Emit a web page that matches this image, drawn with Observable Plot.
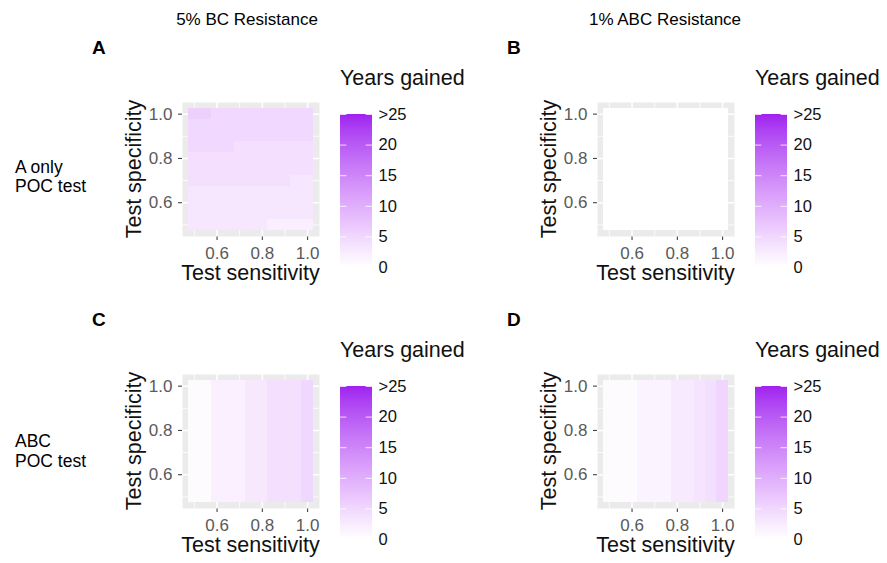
<!DOCTYPE html>
<html>
<head>
<meta charset="utf-8">
<script src="https://cdn.jsdelivr.net/npm/d3@7"></script>
<script src="https://cdn.jsdelivr.net/npm/@observablehq/plot@0.6"></script>
<style>
  html, body { margin: 0; padding: 0; background: #fff; }
  #wrap { position: relative; width: 887px; height: 563px; font-family: "Liberation Sans", Arial, Helvetica, sans-serif; color: #000; overflow: hidden; }
  .txt { position: absolute; white-space: nowrap; line-height: 1; }
  .abs { position: absolute; }
</style>
</head>
<body>
<div id="wrap"></div>
<script>
// ---------- data ----------
const sensitivity = [0.5, 0.55, 0.6, 0.65, 0.7, 0.75, 0.8, 0.85, 0.9, 0.95, 1.0];
const specificity = [1.0, 0.95, 0.9, 0.85, 0.8, 0.75, 0.7, 0.65, 0.6, 0.55, 0.5]; // rows, top to bottom

// Years gained, rows = specificity (1.0 -> 0.5), columns = sensitivity (0.5 -> 1.0)
const yearsA = [
  [5.8, 5.8, 4.8, 4.8, 4.8, 4.8, 4.8, 4.8, 4.8, 4.8, 4.8],
  [4.8, 4.8, 4.8, 4.8, 4.8, 4.8, 4.8, 4.8, 4.8, 4.8, 4.8],
  [4.8, 4.8, 4.8, 4.8, 4.8, 4.8, 4.8, 4.8, 4.8, 4.8, 4.8],
  [4.8, 4.8, 4.8, 4.8, 3.8, 3.8, 3.8, 3.8, 3.8, 3.8, 3.8],
  [3.8, 3.8, 3.8, 3.8, 3.8, 3.8, 3.8, 3.8, 3.8, 3.8, 3.8],
  [3.8, 3.8, 3.8, 3.8, 3.8, 3.8, 3.8, 3.8, 3.8, 3.8, 3.8],
  [3.8, 3.8, 3.8, 3.8, 3.8, 3.8, 3.8, 3.8, 3.8, 2.9, 2.9],
  [2.9, 2.9, 2.9, 2.9, 2.9, 2.9, 2.9, 2.9, 2.9, 2.9, 2.9],
  [2.9, 2.9, 2.9, 2.9, 2.9, 2.9, 2.9, 2.9, 2.9, 2.9, 2.9],
  [2.9, 2.9, 2.9, 2.9, 2.9, 2.9, 2.9, 2.9, 2.9, 2.9, 2.9],
  [2.9, 2.9, 2.9, 2.9, 2.9, 2.9, 2.9, 2.0, 2.0, 2.0, 2.0]
];
const yearsB = [
  [0, 0, 0, 0, 0, 0, 0, 0, 0, 0, 0],
  [0, 0, 0, 0, 0, 0, 0, 0, 0, 0, 0],
  [0, 0, 0, 0, 0, 0, 0, 0, 0, 0, 0],
  [0, 0, 0, 0, 0, 0, 0, 0, 0, 0, 0],
  [0, 0, 0, 0, 0, 0, 0, 0, 0, 0, 0],
  [0, 0, 0, 0, 0, 0, 0, 0, 0, 0, 0],
  [0, 0, 0, 0, 0, 0, 0, 0, 0, 0, 0],
  [0, 0, 0, 0, 0, 0, 0, 0, 0, 0, 0],
  [0, 0, 0, 0, 0, 0, 0, 0, 0, 0, 0],
  [0, 0, 0, 0, 0, 0, 0, 0, 0, 0, 0],
  [0, 0, 0, 0, 0, 0, 0, 0, 0, 0, 0]
];
const yearsC = [
  [0.5, 0.5, 1.8, 1.8, 1.8, 2.8, 2.8, 3.8, 3.8, 3.8, 5.0],
  [0.5, 0.5, 1.8, 1.8, 1.8, 2.8, 2.8, 3.8, 3.8, 3.8, 5.0],
  [0.5, 0.5, 1.8, 1.8, 1.8, 2.8, 2.8, 3.8, 3.8, 3.8, 5.0],
  [0.5, 0.5, 1.8, 1.8, 1.8, 2.8, 2.8, 3.8, 3.8, 3.8, 5.0],
  [0.5, 0.5, 1.8, 1.8, 1.8, 2.8, 2.8, 3.8, 3.8, 3.8, 5.0],
  [0.5, 0.5, 1.8, 1.8, 1.8, 2.8, 2.8, 3.8, 3.8, 3.8, 5.0],
  [0.5, 0.5, 1.8, 1.8, 1.8, 2.8, 2.8, 3.8, 3.8, 3.8, 5.0],
  [0.5, 0.5, 1.8, 1.8, 1.8, 2.8, 2.8, 3.8, 3.8, 3.8, 5.0],
  [0.5, 0.5, 1.8, 1.8, 1.8, 2.8, 2.8, 3.8, 3.8, 3.8, 5.0],
  [0.5, 0.5, 1.8, 1.8, 1.8, 2.8, 2.8, 3.8, 3.8, 3.8, 5.0],
  [0.5, 0.5, 1.8, 1.8, 1.8, 2.8, 2.8, 3.8, 3.8, 3.8, 5.0]
];
const yearsD = [
  [0.5, 0.5, 0.5, 1.5, 1.5, 1.5, 2.7, 2.7, 3.3, 4.0, 5.2],
  [0.5, 0.5, 0.5, 1.5, 1.5, 1.5, 2.7, 2.7, 3.3, 4.0, 5.2],
  [0.5, 0.5, 0.5, 1.5, 1.5, 1.5, 2.7, 2.7, 3.3, 4.0, 5.2],
  [0.5, 0.5, 0.5, 1.5, 1.5, 1.5, 2.7, 2.7, 3.3, 4.0, 5.2],
  [0.5, 0.5, 0.5, 1.5, 1.5, 1.5, 2.7, 2.7, 3.3, 4.0, 5.2],
  [0.5, 0.5, 0.5, 1.5, 1.5, 1.5, 2.7, 2.7, 3.3, 4.0, 5.2],
  [0.5, 0.5, 0.5, 1.5, 1.5, 1.5, 2.7, 2.7, 3.3, 4.0, 5.2],
  [0.5, 0.5, 0.5, 1.5, 1.5, 1.5, 2.7, 2.7, 3.3, 4.0, 5.2],
  [0.5, 0.5, 0.5, 1.5, 1.5, 1.5, 2.7, 2.7, 3.3, 4.0, 5.2],
  [0.5, 0.5, 0.5, 1.5, 1.5, 1.5, 2.7, 2.7, 3.3, 4.0, 5.2],
  [0.5, 0.5, 0.5, 1.5, 1.5, 1.5, 2.7, 2.7, 3.3, 4.0, 5.2]
];

const majorTicks = [0.6, 0.8, 1.0];
const minorTicks = [0.5, 0.7, 0.9];
const legendBreaks = [0, 5, 10, 15, 20, 25];
const legendLabels = ["0", "5", "10", "15", "20", ">25"];
const columnTitles = ["5% BC Resistance", "1% ABC Resistance"];
const rowTitles = [["A only", "POC test"], ["ABC", "POC test"]];
const panelLetters = ["A", "B", "C", "D"];
const xTitle = "Test sensitivity";
const yTitle = "Test specificity";
const legendTitle = "Years gained";

// ---------- layout ----------
const wrap = document.getElementById("wrap");
const colorOpts = {type: "linear", domain: [0, 25], range: ["#ffffff", "#a020f0"], interpolate: d3.interpolateLab, clamp: true};
const step = 0.05;

function toTiles(matrix) {
  const out = [];
  matrix.forEach((row, i) => row.forEach((v, j) => out.push({sens: sensitivity[j], spec: specificity[i], value: v})));
  return out;
}

function addText(str, left, top, style) {
  const el = document.createElement("div");
  el.className = "txt";
  el.textContent = str;
  el.style.left = left + "px";
  el.style.top = top + "px";
  Object.assign(el.style, style || {});
  wrap.appendChild(el);
  return el;
}

const FW = 137, FH = 134; // frame size
function panel(matrix, fl, ft, letter) {
  const ML = 60, MB = 26;
  const svg = Plot.plot({
    width: FW + ML, height: FH + MB,
    marginLeft: ML, marginRight: 0, marginTop: 0, marginBottom: MB,
    style: {fontFamily: "Liberation Sans, Arial, sans-serif", fontSize: "17px", color: "#333", background: "transparent", overflow: "visible"},
    x: {domain: [0.4475, 1.0525], ticks: majorTicks, tickFormat: d => d.toFixed(1), tickSize: 4, tickPadding: 6, label: null},
    y: {domain: [0.4475, 1.0525], ticks: majorTicks, tickFormat: d => d.toFixed(1), tickSize: 4, tickPadding: 6, label: null},
    color: colorOpts,
    marks: [
      Plot.frame({fill: "#ebebeb", stroke: null}),
      Plot.ruleX(minorTicks, {stroke: "#fff", strokeWidth: 0.8}),
      Plot.ruleY(minorTicks, {stroke: "#fff", strokeWidth: 0.8}),
      Plot.ruleX(majorTicks, {stroke: "#fff", strokeWidth: 1.5}),
      Plot.ruleY(majorTicks, {stroke: "#fff", strokeWidth: 1.5}),
      Plot.rect(toTiles(matrix), {
        x1: d => d.sens - step / 2, x2: d => d.sens + step / 2,
        y1: d => d.spec - step / 2, y2: d => d.spec + step / 2,
        fill: "value", shapeRendering: "crispEdges"
      })
    ]
  });
  svg.classList.add("abs");
  svg.style.left = (fl - ML) + "px";
  svg.style.top = ft + "px";
  wrap.appendChild(svg);
  svg.querySelectorAll("g[aria-label='x-axis'] text, g[aria-label='y-axis'] text, g[aria-label='x-axis tick label'] text, g[aria-label='y-axis tick label'] text").forEach(t => t.setAttribute("fill", "#5a5a5a"));

  // axis titles
  addText(xTitle, fl + FW / 2, ft + FH + 27, {fontSize: "21.5px", transform: "translateX(-50%)", color: "#111"});
  addText(yTitle, fl - 47, ft + FH / 2, {fontSize: "21.5px", transform: "translate(-50%,-50%) rotate(-90deg)", color: "#111"});

  // legend
  const barTop = ft + 12, barH = 153, barW = 32, barL = fl + FW + 21;
  const stops = d3.range(0, 25.0001, 0.125);
  const leg = Plot.plot({
    width: barW + 40, height: barH + 20,
    marginLeft: 0, marginRight: 40, marginTop: 10, marginBottom: 10,
    style: {fontFamily: "Liberation Sans, Arial, sans-serif", fontSize: "16.5px", color: "#111", background: "transparent", overflow: "visible"},
    x: {domain: [0, 1], axis: null},
    y: {domain: [0, 25], ticks: legendBreaks, tickFormat: d => legendLabels[legendBreaks.indexOf(d)], tickSize: 0, tickPadding: 6, label: null, axis: "right"},
    color: colorOpts,
    marks: [
      Plot.rect(stops, {x1: 0, x2: 1, y1: d => Math.max(0, d - 0.0625), y2: d => Math.min(25, d + 0.0625), fill: d => d, shapeRendering: "crispEdges"}),
      Plot.ruleY(legendBreaks, {x1: 0, x2: 0.2, stroke: "#fff", strokeWidth: 1, strokeOpacity: 0.8}),
      Plot.ruleY(legendBreaks, {x1: 0.8, x2: 1, stroke: "#fff", strokeWidth: 1, strokeOpacity: 0.8})
    ]
  });
  leg.classList.add("abs");
  leg.style.left = barL + "px";
  leg.style.top = (barTop - 10) + "px";
  wrap.appendChild(leg);
  addText(legendTitle, barL, ft - 34, {fontSize: "21.5px", color: "#111"});

  // panel letter
  addText(letter, fl - 90, ft - 64, {fontSize: "19px", fontWeight: "bold"});
}

const frameLefts = [182, 597];
const frameTops = [102, 374];
panel(yearsA, frameLefts[0], frameTops[0], panelLetters[0]);
panel(yearsB, frameLefts[1], frameTops[0], panelLetters[1]);
panel(yearsC, frameLefts[0], frameTops[1], panelLetters[2]);
panel(yearsD, frameLefts[1], frameTops[1], panelLetters[3]);

// column titles
addText(columnTitles[0], 247, 11, {fontSize: "17px", transform: "translateX(-50%)"});
addText(columnTitles[1], 665, 11, {fontSize: "17px", transform: "translateX(-50%)"});
// row titles
addText(rowTitles[0][0], 15, 159, {fontSize: "17.5px"});
addText(rowTitles[0][1], 15, 178, {fontSize: "17.5px"});
addText(rowTitles[1][0], 15, 433, {fontSize: "17.5px"});
addText(rowTitles[1][1], 15, 453, {fontSize: "17.5px"});
</script>
</body>
</html>
